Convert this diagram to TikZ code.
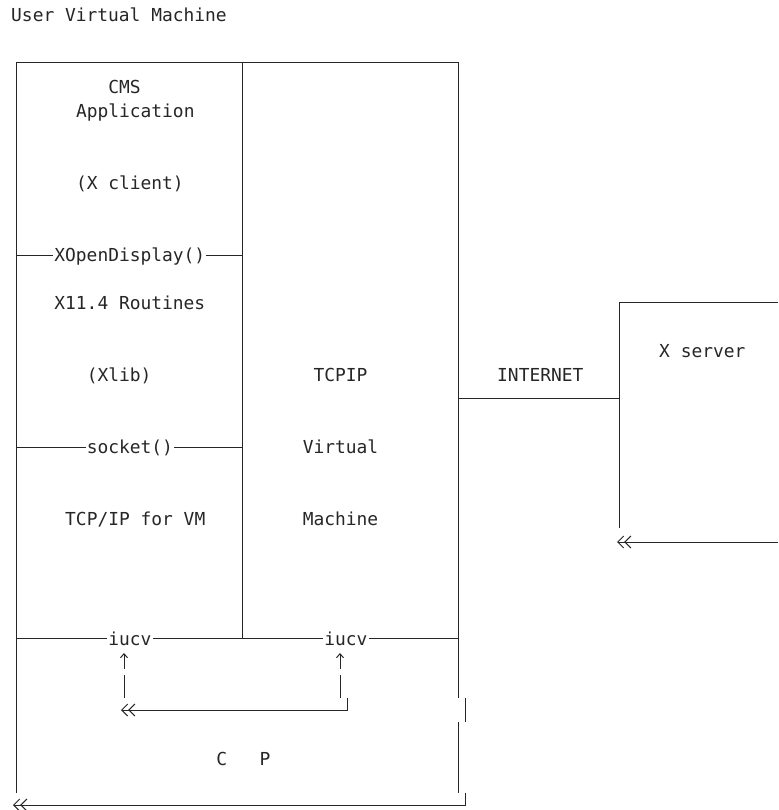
\documentclass[tikz,border=0pt]{standalone}
\usepackage{fontspec}
\usetikzlibrary{arrows.meta}
\newfontfamily\monofnt{DejaVu Sans Mono}
\begin{document}
\begin{tikzpicture}[x=1pt,y=-1pt,
  ln/.style={draw=black!85,line width=1pt},
  lbl/.style={anchor=base west,inner sep=0pt,font=\monofnt\fontsize{17.9}{20}\selectfont,text=black!85},
  cut/.style={anchor=base west,inner sep=1pt,font=\monofnt\fontsize{17.9}{20}\selectfont,text=black!85},
  dbl/.style={-{Straight Barb[length=6pt,width=12pt]Straight Barb[length=6pt,width=12pt]}},
  upar/.style={-{Straight Barb[length=4pt,width=7pt]}}]
\useasboundingbox (0,0) rectangle (778,810);
% texts
\node[lbl] (uvm) at (11,21.5) {User Virtual Machine};
\node[lbl] (cms) at (108.2,93.5) {CMS};
\node[lbl] (app) at (75.8,117.5) {Application};
\node[lbl] (xcl) at (75.8,189.5) {(X client)};
\node[cut] (xod) at (53.2,261.5) {XOpenDisplay()};
\node[lbl] (x11) at (54.2,309.5) {X11.4 Routines};
\node[lbl] (xlib) at (86.6,381.5) {(Xlib)};
\node[cut] (sock) at (85.6,453.5) {socket()};
\node[lbl] (tcpvm) at (65,525.5) {TCP/IP for VM};
\node[lbl] (tcpip) at (313.4,381.5) {TCPIP};
\node[lbl] (virt) at (302.6,453.5) {Virtual};
\node[lbl] (mach) at (302.6,525.5) {Machine};
\node[lbl] (inet) at (497,381.5) {INTERNET};
\node[lbl] (xsrv) at (659,357.5) {X server};
\node[cut] (iucvL) at (107.2,645.5) {iucv};
\node[cut] (iucvR) at (323.2,645.5) {iucv};
\node[lbl] (cp) at (216.2,765.5) {C\ \ \ P};
% frame coordinates
\coordinate (tl) at (16,63);
\coordinate (tm) at (242,63);
\coordinate (tr) at (458,63);
\coordinate (bm) at (242,638);
\coordinate (il) at (16,638);
\coordinate (ir) at (458,638);
\coordinate (xl) at (16,255);
\coordinate (xr) at (242,255);
\coordinate (sl) at (16,447);
\coordinate (sr) at (242,447);
\coordinate (rb1) at (458,698);
\coordinate (rs1) at (465,698);
\coordinate (rs2) at (465,722);
\coordinate (rb2) at (458,722);
\coordinate (rb3) at (458,793);
\coordinate (bc) at (465,793);
\coordinate (bl) at (16,793);
\coordinate (ba) at (13,805);
\coordinate (inA) at (458,398);
\coordinate (inB) at (619,398);
\coordinate (xsT) at (778,302);
\coordinate (xsB) at (619,528);
\coordinate (xsAr) at (778,542);
\coordinate (xsAl) at (617,542);
% frame
\draw[ln] (bl) -- (tl) -- (tr) -- (rb1);
\draw[ln] (rs1) -- (rs2);
\draw[ln] (rb2) -- (rb3);
\draw[ln] (tm) -- (bm);
\draw[ln] (il) -- (iucvL.west |- il);
\draw[ln] (iucvL.east |- il) -- (iucvR.west |- il);
\draw[ln] (iucvR.east |- ir) -- (ir);
\draw[ln] (xl) -- (xod.west |- xl);
\draw[ln] (xod.east |- xr) -- (xr);
\draw[ln] (sl) -- (sock.west |- sl);
\draw[ln] (sock.east |- sr) -- (sr);
\draw[ln,dbl] (bc) |- (ba);
% internet and X server
\draw[ln] (inA) -- (inB);
\draw[ln] (xsT) -| (xsB);
\draw[ln,dbl] (xsAr) -- (xsAl);
% iucv arrows
\coordinate (aL1) at (124,698);
\coordinate (aL2) at (124,675);
\coordinate (aL3) at (124,669);
\coordinate (aL4) at (124,653);
\coordinate (aR1) at (340,698);
\coordinate (aR2) at (340,675);
\coordinate (aR3) at (340,669);
\coordinate (aR4) at (340,653);
\coordinate (hc) at (347,698);
\coordinate (ha) at (121,710);
\draw[ln] (aL1) -- (aL2);
\draw[ln,upar] (aL3) -- (aL4);
\draw[ln] (aR1) -- (aR2);
\draw[ln,upar] (aR3) -- (aR4);
\draw[ln,dbl] (hc) |- (ha);
\end{tikzpicture}
\end{document}
